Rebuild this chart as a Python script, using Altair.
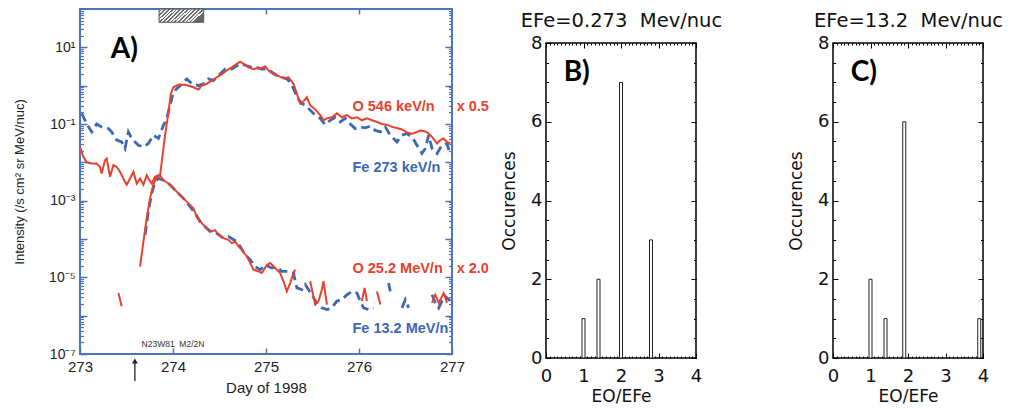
import altair as alt
import pandas as pd

# ---------------- Panel A: time series ----------------
o546_day = [273.000, 273.036, 273.072, 273.126, 273.179, 273.215, 273.233, 273.269, 273.287, 273.323,
            273.359, 273.395, 273.430, 273.484, 273.502, 273.538, 273.574, 273.610, 273.646, 273.682,
            273.717, 273.735, 273.771, 273.807, 273.843, 273.861, 273.915, 273.951, 273.976, 274.004,
            274.058, 274.130, 274.220, 274.274, 274.309, 274.363, 274.417, 274.471, 274.525, 274.578,
            274.632, 274.686, 274.722, 274.758, 274.812, 274.865, 274.901, 274.955, 274.991, 275.027,
            275.081, 275.135, 275.188, 275.242, 275.296, 275.332, 275.368, 275.404, 275.439, 275.475,
            275.529, 275.583, 275.619, 275.655, 275.709, 275.762, 275.816, 275.870, 275.924, 275.978,
            276.031, 276.085, 276.139, 276.193, 276.247, 276.300, 276.354, 276.408, 276.462, 276.516,
            276.570, 276.623, 276.659, 276.713, 276.749, 276.785, 276.839, 276.874, 276.910, 276.946,
            276.982]
o546_val = [0.025, 0.014, 0.010, 0.0093, 0.0093, 0.0076, 0.0051, 0.0114, 0.0126, 0.0042,
            0.0085, 0.0076, 0.0057, 0.0031, 0.0026, 0.0038, 0.0057, 0.0028, 0.0038, 0.0026,
            0.0046, 0.0038, 0.0028, 0.0042, 0.0046, 0.0046, 0.051, 0.20, 0.61, 0.91,
            1.05, 1.05, 0.91, 0.79, 1.0, 1.12, 1.36, 1.66, 2.0, 2.5,
            3.0, 3.7, 4.2, 3.7, 3.0, 2.7, 2.85, 2.85, 3.2, 2.5,
            2.0, 1.77, 1.57, 1.66, 1.12, 0.61, 0.34, 0.39, 0.50, 0.31,
            0.24, 0.17, 0.125, 0.14, 0.15, 0.19, 0.15, 0.17, 0.14, 0.15,
            0.125, 0.14, 0.125, 0.113, 0.10, 0.096, 0.084, 0.079, 0.072, 0.060,
            0.056, 0.062, 0.068, 0.064, 0.056, 0.046, 0.031, 0.038, 0.042, 0.034,
            0.031]

fe273_day = [273.018, 273.072, 273.126, 273.179, 273.233, 273.305, 273.341, 273.395, 273.448, 273.484,
             273.520, 273.556, 273.592, 273.628, 273.682, 273.735, 273.789, 273.843, 273.897, 273.933,
             273.969, 274.004, 274.076, 274.148, 274.202, 274.274, 274.327, 274.381, 274.435, 274.489,
             274.560, 274.632, 274.686, 274.740, 274.794, 274.847, 274.901, 274.955, 275.009, 275.063,
             275.117, 275.170, 275.224, 275.260, 275.296, 275.332, 275.386, 275.422, 275.475, 275.529,
             275.583, 275.637, 275.691, 275.744, 275.798, 275.852, 275.906, 275.960, 276.013, 276.067,
             276.121, 276.175, 276.229, 276.283, 276.336, 276.372, 276.408, 276.462, 276.516, 276.570,
             276.623, 276.677, 276.713, 276.749, 276.785, 276.839, 276.892, 276.946, 276.982]
fe273_val = [0.19, 0.10, 0.062, 0.10, 0.084, 0.076, 0.062, 0.038, 0.034, 0.023,
             0.062, 0.042, 0.034, 0.028, 0.025, 0.031, 0.051, 0.042, 0.092, 0.14,
             0.31, 0.68, 1.0, 1.5, 1.12, 1.0, 1.12, 1.5, 1.36, 1.84,
             2.7, 2.7, 3.3, 3.7, 3.3, 3.0, 3.0, 2.7, 2.7, 2.24,
             1.84, 1.66, 1.5, 1.23, 0.83, 0.50, 0.34, 0.31, 0.23, 0.17,
             0.14, 0.096, 0.125, 0.15, 0.113, 0.14, 0.10, 0.076, 0.084, 0.079,
             0.088, 0.068, 0.062, 0.084, 0.051, 0.042, 0.034, 0.051, 0.056, 0.046,
             0.028, 0.017, 0.023, 0.051, 0.023, 0.017, 0.028, 0.031, 0.0155]

o25_day = [273.646, 273.682, 273.717, 273.753, 273.789, 273.825, 273.861, 273.897, 273.951, 274.004,
           274.058, 274.112, 274.166, 274.220, 274.256, 274.309, 274.363, 274.417, 274.453, 274.489,
           274.543, 274.596, 274.632, 274.668, 274.704, 274.740, 274.794, 274.830, 274.865, 274.919,
           274.955, 275.009, 275.045, 275.099, 275.152, 275.188, 275.224, 275.260, 275.296, 275.314,
           275.475, 275.529, 275.565, 275.601, 275.619, 275.655,
           276.031, 276.060, 276.085,
           276.193, 276.229,
           276.785, 276.821, 276.857, 276.910, 276.946,
           273.413, 273.448]
o25_val = [1.9e-5, 8.6e-5, 3.5e-4, 1.15e-3, 2.6e-3, 4.2e-3, 4.6e-3, 3.4e-3, 2.8e-3, 2.1e-3,
           1.55e-3, 1.15e-3, 8.5e-4, 6.3e-4, 3.8e-4, 2.6e-4, 1.9e-4, 1.57e-4, 1.7e-4, 1.28e-4,
           1.05e-4, 9.5e-5, 7.8e-5, 8.6e-5, 6.4e-5, 5.2e-5, 3.5e-5, 2.35e-5, 1.58e-5, 1.43e-5,
           1.3e-5, 2.1e-5, 2.35e-5, 1.75e-5, 1.3e-5, 7.9e-6, 4.3e-6, 7.1e-6, 1.3e-5, 1.58e-5,
           7.9e-6, 1.95e-6, 2.4e-6, 4.8e-6, 7.9e-6, 1.95e-6,
           2.4e-6, 5.3e-6, 2.4e-6,
           4.3e-6, 1.95e-6,
           2.15e-6, 3.5e-6, 2.15e-6, 3.9e-6, 2.15e-6,
           3.9e-6, 1.77e-6]
o25_seg = [0] * 40 + [1] * 6 + [2] * 3 + [3] * 2 + [4] * 5 + [5] * 2

fe13_day = [273.700, 273.735, 273.771, 273.807, 273.843, 273.897, 273.969, 274.040, 274.112, 274.184,
            274.238, 274.291, 274.345, 274.399, 274.471, 274.543, 274.596, 274.686, 274.722, 274.776,
            274.830, 274.883, 274.937, 274.991, 275.063, 275.117, 275.170, 275.242, 275.296, 275.314,
            275.332, 275.386, 275.422, 275.457, 275.493, 275.547, 275.601, 275.655, 275.709, 275.762,
            275.816, 275.870, 275.924, 275.978, 276.013, 276.049, 276.103, 276.157,
            276.318, 276.336,
            276.462, 276.498, 276.534,
            276.785, 276.821, 276.857, 276.892, 276.928, 276.982]
fe13_val = [1.28e-4, 5.2e-4, 1.55e-3, 3.1e-3, 3.8e-3, 3.4e-3, 2.6e-3, 1.7e-3, 1.15e-3, 7.0e-4,
            4.7e-4, 2.85e-4, 2.1e-4, 1.57e-4, 1.4e-4, 1.05e-4, 1.16e-4, 8.6e-5, 6.4e-5, 3.9e-5,
            2.9e-5, 1.9e-5, 1.58e-5, 2.1e-5, 1.75e-5, 1.9e-5, 1.43e-5, 1.43e-5, 1.3e-5, 7.9e-6,
            5.3e-6, 4.8e-6, 6.5e-6, 4.8e-6, 3.5e-6, 2.15e-6, 1.6e-6, 1.44e-6, 1.6e-6, 2.4e-6,
            2.6e-6, 3.5e-6, 4.3e-6, 3.9e-6, 2.4e-6, 1.6e-6, 1.44e-6, 1.6e-6,
            7.1e-6, 4.3e-6,
            1.6e-6, 2.6e-6, 1.6e-6,
            3.5e-6, 2.15e-6, 1.6e-6, 2.4e-6, 3.2e-6, 2.4e-6]
fe13_seg = [0] * 48 + [1] * 2 + [2] * 3 + [3] * 6

series_names = ["O 546 keV/n", "Fe 273 keV/n", "O 25.2 MeV/n", "Fe 13.2 MeV/n"]
series_factor = ["x 0.5", "", "x 2.0", ""]
day_ticks = [273, 274, 275, 276, 277]
shock_days = [273.85, 274.33]
flare_day = 273.59
flare_text = "N23W81\u00a0 M2/2N"

# ---------------- Panels B / C: histograms ----------------
b_ratio = [1.0, 1.4, 2.0, 2.8]
b_count = [1, 2, 7, 3]
c_ratio = [1.0, 1.4, 1.9, 3.9]
c_count = [2, 1, 6, 1]

# ---------------- styling ----------------
AXB = "#4f74b8"
RED = "#e8412e"
BLUE = "#3c68b4"
FA = "Liberation Sans"
FI = "DejaVu Sans"
FL = "Lato"

W_A, H_A = 372, 345
xA = alt.Scale(domain=[273, 277], nice=False, zero=False)
yA = alt.Scale(type="log", domain=[1e-7, 1e2], nice=False)

frameA = pd.DataFrame({"x": [273.0], "x2": [277.0], "y": [1e-7], "y2": [1e2]})
decades = [10.0 ** e for e in range(-7, 2)]
minors = [k * 10.0 ** e for e in range(-7, 2) for k in range(2, 10)]
E = "round(log(datum.value)/LN10)"
label_expr = (f"{E} == 1 ? '10¹' : {E} == -1 ? '10⁻¹' : {E} == -3 ? '10⁻³' : "
              f"{E} == -5 ? '10⁻⁵' : {E} == -7 ? '10⁻⁷' : ''")

tick_common = dict(domain=False, grid=False, tickColor=AXB, labelFlush=False, labelOverlap=False)

a_frame = alt.Chart(frameA).mark_rect(fill="white", fillOpacity=0, stroke=AXB, strokeWidth=2).encode(
    x=alt.X("x:Q", scale=xA, axis=alt.Axis(
        orient="bottom", values=day_ticks, format="d", offset=-6, tickSize=6, tickWidth=1.5,
        labelFont=FA, labelFontSize=15, labelColor="#222", labelPadding=5,
        title="Day of 1998", titleFont=FA, titleFontSize=15, titleFontWeight="normal",
        titleColor="#222", titlePadding=6, **tick_common)),
    x2="x2:Q",
    y=alt.Y("y:Q", scale=yA, axis=alt.Axis(
        orient="left", values=decades, labelExpr=label_expr, offset=-7, tickSize=7, tickWidth=1.5,
        labelFont=FA, labelFontSize=14, labelColor="#222", labelPadding=5,
        title="Intensity (/s cm² sr MeV/nuc)", titleFont=FA, titleFontSize=13,
        titleFontWeight="normal", titleColor="#222", titlePadding=22, **tick_common)),
    y2="y2:Q",
)

a_ax2 = alt.Chart(frameA).mark_point(opacity=0).encode(
    x=alt.X("x:Q", scale=xA, axis=alt.Axis(orient="top", values=day_ticks[1:-1], offset=-5, tickSize=5,
                                            tickWidth=1.5, labels=False, title=None, **tick_common)),
    y=alt.Y("y:Q", scale=yA, axis=alt.Axis(orient="left", values=minors, offset=-3.5, tickSize=3.5,
                                            tickWidth=1.2, labels=False, title=None, **tick_common)),
)
a_ax3 = alt.Chart(frameA).mark_point(opacity=0).encode(
    x=alt.X("x:Q", scale=xA, axis=None),
    y=alt.Y("y:Q", scale=yA, axis=alt.Axis(orient="right", values=decades, offset=-7, tickSize=7,
                                            tickWidth=1.5, labels=False, title=None, **tick_common)),
)
a_ax4 = alt.Chart(frameA).mark_point(opacity=0).encode(
    x=alt.X("x:Q", scale=xA, axis=None),
    y=alt.Y("y:Q", scale=yA, axis=alt.Axis(orient="right", values=minors, offset=-3.5, tickSize=3.5,
                                            tickWidth=1.2, labels=False, title=None, **tick_common)),
)


def series_df(days, vals, name, segs=None):
    segs = segs if segs is not None else [0] * len(days)
    return pd.DataFrame({"day": days, "val": vals, "key": [f"{name}-{s}" for s in segs]})


red_df = pd.concat([series_df(o546_day, o546_val, "O546"), series_df(o25_day, o25_val, "O25", o25_seg)])
blue_df = pd.concat([series_df(fe273_day, fe273_val, "Fe273"), series_df(fe13_day, fe13_val, "Fe13", fe13_seg)])

XA = alt.X("day:Q", scale=xA, axis=None)
YA = alt.Y("val:Q", scale=yA, axis=None)

blue_lines = alt.Chart(blue_df).mark_line(color=BLUE, strokeWidth=2.8, strokeDash=[9, 5]).encode(
    x=XA, y=YA, detail="key:N")
red_lines = alt.Chart(red_df).mark_line(color=RED, strokeWidth=2).encode(
    x=XA, y=YA, detail="key:N")

# annotations
lab_df = pd.DataFrame({"text": series_names, "day": [275.93] * 4,
                       "val": [0.28, 7.3e-3, 1.66e-5, 4.4e-7], "c": [RED, BLUE, RED, BLUE]})
fac_df = pd.DataFrame({"text": [series_factor[0], series_factor[2]], "day": [277.05, 277.05],
                       "val": [0.28, 1.66e-5]})
labels = alt.Chart(lab_df).mark_text(align="left", baseline="middle", font=FA, fontWeight="bold",
                                     fontSize=14.5).encode(
    x=XA, y=YA, text="text:N", color=alt.Color("c:N", scale=None))
factors = alt.Chart(fac_df).mark_text(align="left", baseline="middle", font=FA, fontWeight="bold",
                                      fontSize=14.5, color=RED).encode(x=XA, y=YA, text="text:N")

letterA = alt.Chart(pd.DataFrame({"day": [273.33], "val": [8.3], "t": ["A)"]})).mark_text(
    align="left", baseline="middle", font=FL, fontWeight="bold", fontSize=28, color="black").encode(
    x=XA, y=YA, text="t:N")

stops = []
n = 13
for k in range(n):
    a, b, c = k / n, (k + 0.55) / n, (k + 1) / n
    stops += [{"offset": a, "color": "#f4f4f4"}, {"offset": b, "color": "#f4f4f4"},
              {"offset": b, "color": "#6a6a6a"}, {"offset": c, "color": "#6a6a6a"}]
grad = {"gradient": "linear", "stops": stops, "x1": 0, "y1": 0, "x2": 1, "y2": 0.31}
shock_df = pd.DataFrame({"d0": [shock_days[0]], "d1": [shock_days[1]], "v0": [45.0], "v1": [100.0]})
shock = alt.Chart(shock_df).mark_rect(fill=grad, stroke="#555", strokeWidth=1).encode(
    x=alt.X("d0:Q", scale=xA, axis=None), x2="d1:Q",
    y=alt.Y("v0:Q", scale=yA, axis=None), y2="v1:Q")

arrow_df = pd.DataFrame({"day": [flare_day]})
arrow_line = alt.Chart(arrow_df).mark_rule(color="#222", strokeWidth=1.3).encode(
    x=XA, y=alt.value(353), y2=alt.value(372))
arrow_head = alt.Chart(arrow_df).mark_point(shape="triangle-up", filled=True, size=35, color="#222",
                                             opacity=1).encode(x=XA, y=alt.value(352))
flare = alt.Chart(pd.DataFrame({"day": [274.0], "val": [1.8e-7], "t": [flare_text]})).mark_text(
    font=FA, fontSize=8.5, color="#333", baseline="middle").encode(x=XA, y=YA, text="t:N")

panelA = alt.layer(
    a_frame, a_ax2, a_ax3, a_ax4, shock, blue_lines, red_lines, labels, factors, letterA,
    arrow_line, arrow_head, flare
).resolve_axis(x="independent", y="independent").properties(width=W_A, height=H_A)


# ---------------- histogram panels ----------------
def hist_panel(ratios, counts, title, letter):
    W, H, TOP = 150, 349, 34
    xs = alt.Scale(domain=[0, 4], nice=False, zero=False)
    ys = alt.Scale(domain=[0, 8], range=[H, TOP], nice=False, zero=False)
    frame = pd.DataFrame({"x": [0.0], "x2": [4.0], "y": [0.0], "y2": [8.0]})
    com = dict(domain=False, grid=False, tickColor="black", labelFlush=False, labelOverlap=False)
    fr = alt.Chart(frame).mark_rect(fill="white", fillOpacity=0, stroke="black", strokeWidth=1.5).encode(
        x=alt.X("x:Q", scale=xs, axis=alt.Axis(
            orient="bottom", values=[0, 1, 2, 3, 4], format="d", offset=-5, tickSize=5,
            labelFont=FI, labelFontSize=18, labelColor="#111", labelPadding=9,
            title="EO/EFe", titleFont=FI, titleFontSize=17, titleFontWeight="normal",
            titleColor="#111", titlePadding=3, **com)),
        x2="x2:Q",
        y=alt.Y("y:Q", scale=ys, axis=alt.Axis(
            orient="left", values=[0, 2, 4, 6, 8], format="d", offset=-5, tickSize=5,
            labelFont=FI, labelFontSize=18, labelColor="#111", labelPadding=4,
            title="Occurences", titleFont=FI, titleFontSize=17, titleFontWeight="normal",
            titleColor="#111", titlePadding=12, **com)),
        y2="y2:Q",
    )
    ax2 = alt.Chart(frame).mark_point(opacity=0).encode(
        x=alt.X("x:Q", scale=xs, axis=alt.Axis(orient="bottom", values=[i / 10 for i in range(41)],
                                                offset=-2, tickSize=2, labels=False, title=None, **com)),
        y=alt.Y("y:Q", scale=ys, axis=alt.Axis(orient="left", values=[i / 2 for i in range(17)],
                                                offset=-2.5, tickSize=2.5, labels=False, title=None, **com)),
    )
    ax3 = alt.Chart(frame).mark_point(opacity=0).encode(
        x=alt.X("x:Q", scale=xs, axis=alt.Axis(
            orient="top", values=[0, 1, 2, 3, 4], offset=-(TOP + 5), tickSize=5, labels=False,
            title=title, titleFont=FI, titleFontSize=19.5, titleFontWeight="normal", titleColor="#111",
            titlePadding=12, **com)),
        y=alt.Y("y:Q", scale=ys, axis=alt.Axis(orient="right", values=[0, 2, 4, 6, 8], offset=-5,
                                                tickSize=5, labels=False, title=None, **com)),
    )
    ax4 = alt.Chart(frame).mark_point(opacity=0).encode(
        x=alt.X("x:Q", scale=xs, axis=alt.Axis(orient="top", values=[i / 10 for i in range(41)],
                                                offset=-(TOP + 2), tickSize=2, labels=False, title=None,
                                                **com)),
        y=alt.Y("y:Q", scale=ys, axis=alt.Axis(orient="right", values=[i / 2 for i in range(17)],
                                                offset=-2.5, tickSize=2.5, labels=False, title=None, **com)),
    )
    bars = alt.Chart(pd.DataFrame({"r": ratios, "n": counts})).transform_calculate(
        r0="datum.r - 0.04", r1="datum.r + 0.04", z="0"
    ).mark_rect(fill="white", stroke="#222", strokeWidth=1).encode(
        x=alt.X("r0:Q", scale=xs, axis=None), x2="r1:Q",
        y=alt.Y("n:Q", scale=ys, axis=None), y2="z:Q")
    let = alt.Chart(pd.DataFrame({"x": [0.47], "y": [7.25], "t": [letter]})).mark_text(
        align="left", baseline="middle", font=FL, fontWeight="bold", fontSize=28, color="black").encode(
        x=alt.X("x:Q", scale=xs, axis=None), y=alt.Y("y:Q", scale=ys, axis=None), text="t:N")
    return alt.layer(fr, ax2, ax3, ax4, bars, let).resolve_axis(
        x="independent", y="independent").properties(width=W, height=H)


panelB = hist_panel(b_ratio, b_count, "EFe=0.273\u00a0 Mev/nuc", "B)")
panelC = hist_panel(c_ratio, c_count, "EFe=13.2\u00a0 Mev/nuc", "C)")

chart = alt.hconcat(
    panelA,
    alt.hconcat(panelB, panelC, spacing=137, bounds="flush"),
    spacing=94, bounds="flush",
).properties(padding={"left": 5, "top": 0, "right": 0, "bottom": 0}).configure_view(strokeWidth=0)

chart.save("out.html", embed_options={"renderer": "svg", "actions": False})
